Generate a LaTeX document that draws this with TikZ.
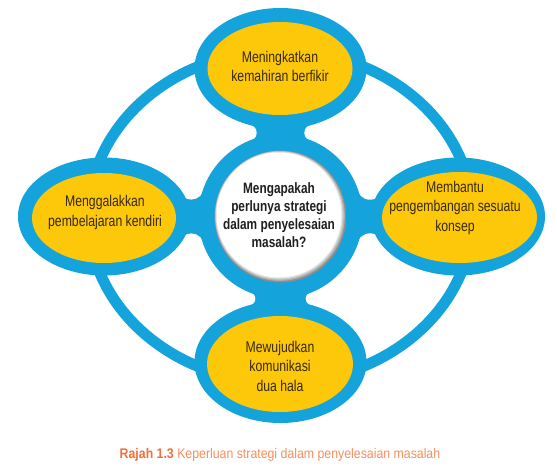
\documentclass[tikz,border=0pt]{standalone}
\usepackage{fontspec}
\usetikzlibrary{calc}
\setmainfont{Liberation Sans}
\newfontfamily\bodyfont{Liberation Sans}[FakeStretch=0.79]
\newfontfamily\capfont{Liberation Sans}[FakeStretch=0.88]
\definecolor{rblue}{RGB}{20,163,219}
\definecolor{ryellow}{RGB}{253,199,10}
\definecolor{rtext}{RGB}{55,42,12}
\definecolor{rcapA}{RGB}{240,112,60}
\definecolor{rcapB}{RGB}{246,142,92}
\begin{document}
\begin{tikzpicture}[x=1pt,y=-1pt,
  ringline/.style={draw=rblue, line width=11pt},
  blueshape/.style={fill=rblue},
  yelshape/.style={fill=ryellow},
  fillet/.style={fill=white},
  bodytext/.style={font=\bodyfont\fontsize{15.5}{19.5}\selectfont, text=rtext, align=center, inner sep=0pt, anchor=north},
  centertext/.style={font=\bodyfont\bfseries\fontsize{15}{18}\selectfont, text=black!88, align=center, inner sep=0pt, anchor=north},
  captext/.style={font=\capfont\fontsize{14}{16}\selectfont, inner sep=0pt, anchor=base}]
\useasboundingbox (0,0) rectangle (557,467);
\coordinate (C) at (280.5,216.5);
% big ring
\draw[ringline] (C) ellipse [x radius=192, y radius=166];
% necks
\fill[blueshape] (248.5,124.5) rectangle (312.5,141.3);
\fill[blueshape] (248.5,291.7) rectangle (312.5,305.7);
\fill[blueshape] (177.6,186.5) rectangle (204.7,246.5);
\fill[blueshape] (356.3,186.5) rectangle (383.6,246.5);
% fillets
\fill[fillet] (248.5,132.85) circle (8.2);
\fill[fillet] (312.5,132.85) circle (8.2);
\fill[fillet] (248.5,298.7) circle (6.8);
\fill[fillet] (312.5,298.7) circle (6.8);
\fill[fillet] (191.1,186.5) circle (13.1);
\fill[fillet] (191.1,246.5) circle (13.1);
\fill[fillet] (370,186.5) circle (13.2);
\fill[fillet] (370,246.5) circle (13.2);
% blue outer shapes
\fill[blueshape] (C) circle (82);
\fill[blueshape] (280.5,68.5) ellipse [x radius=86, y radius=60.5];
\fill[blueshape] (280.5,362) ellipse [x radius=86, y radius=61];
\fill[blueshape] (104,216.5) ellipse [x radius=86, y radius=59];
\fill[blueshape] (458,216.5) ellipse [x radius=87, y radius=59];
% yellow inner shapes
\fill[yelshape] (280,68.5) ellipse [x radius=72.5, y radius=46.5];
\fill[yelshape] (280,364) ellipse [x radius=73, y radius=48];
\fill[yelshape] (104,218) ellipse [x radius=72, y radius=45];
\fill[yelshape] (459.5,217.5) ellipse [x radius=77.5, y radius=45.5];
% centre disk with shadow rim
\begin{scope}
\clip (C) circle (66);
\fill[black!45] (C) circle (66);
\fill[black!32] ($(C)+(-0.6,-0.6)$) circle (65);
\fill[black!22] ($(C)+(-1.0,-1.0)$) circle (64.2);
\fill[black!12] ($(C)+(-1.3,-1.3)$) circle (63.4);
\fill[white] ($(C)+(-1.5,-1.5)$) circle (62.5);
\end{scope}
% texts
\node[bodytext] (ttop) at (280,50.9) {Meningkatkan\\kemahiran berfikir};
\node[bodytext] (tleft) at (105,195.4) {Menggalakkan\\pembelajaran kendiri};
\node[bodytext] (tright) at (455,180.6) {Membantu\\pengembangan sesuatu\\konsep};
\node[bodytext] (tbottom) at (280,340.6) {Mewujudkan\\komunikasi\\dua hala};
\node[centertext] (tcentre) at (279,182.2) {Mengapakah\\perlunya strategi\\dalam penyelesaian\\masalah?};
\node[captext] (caption) at (280,458) {{\bfseries\color{rcapA}Rajah 1.3} {\color{rcapB}Keperluan strategi dalam penyelesaian masalah}};
\end{tikzpicture}
\end{document}
